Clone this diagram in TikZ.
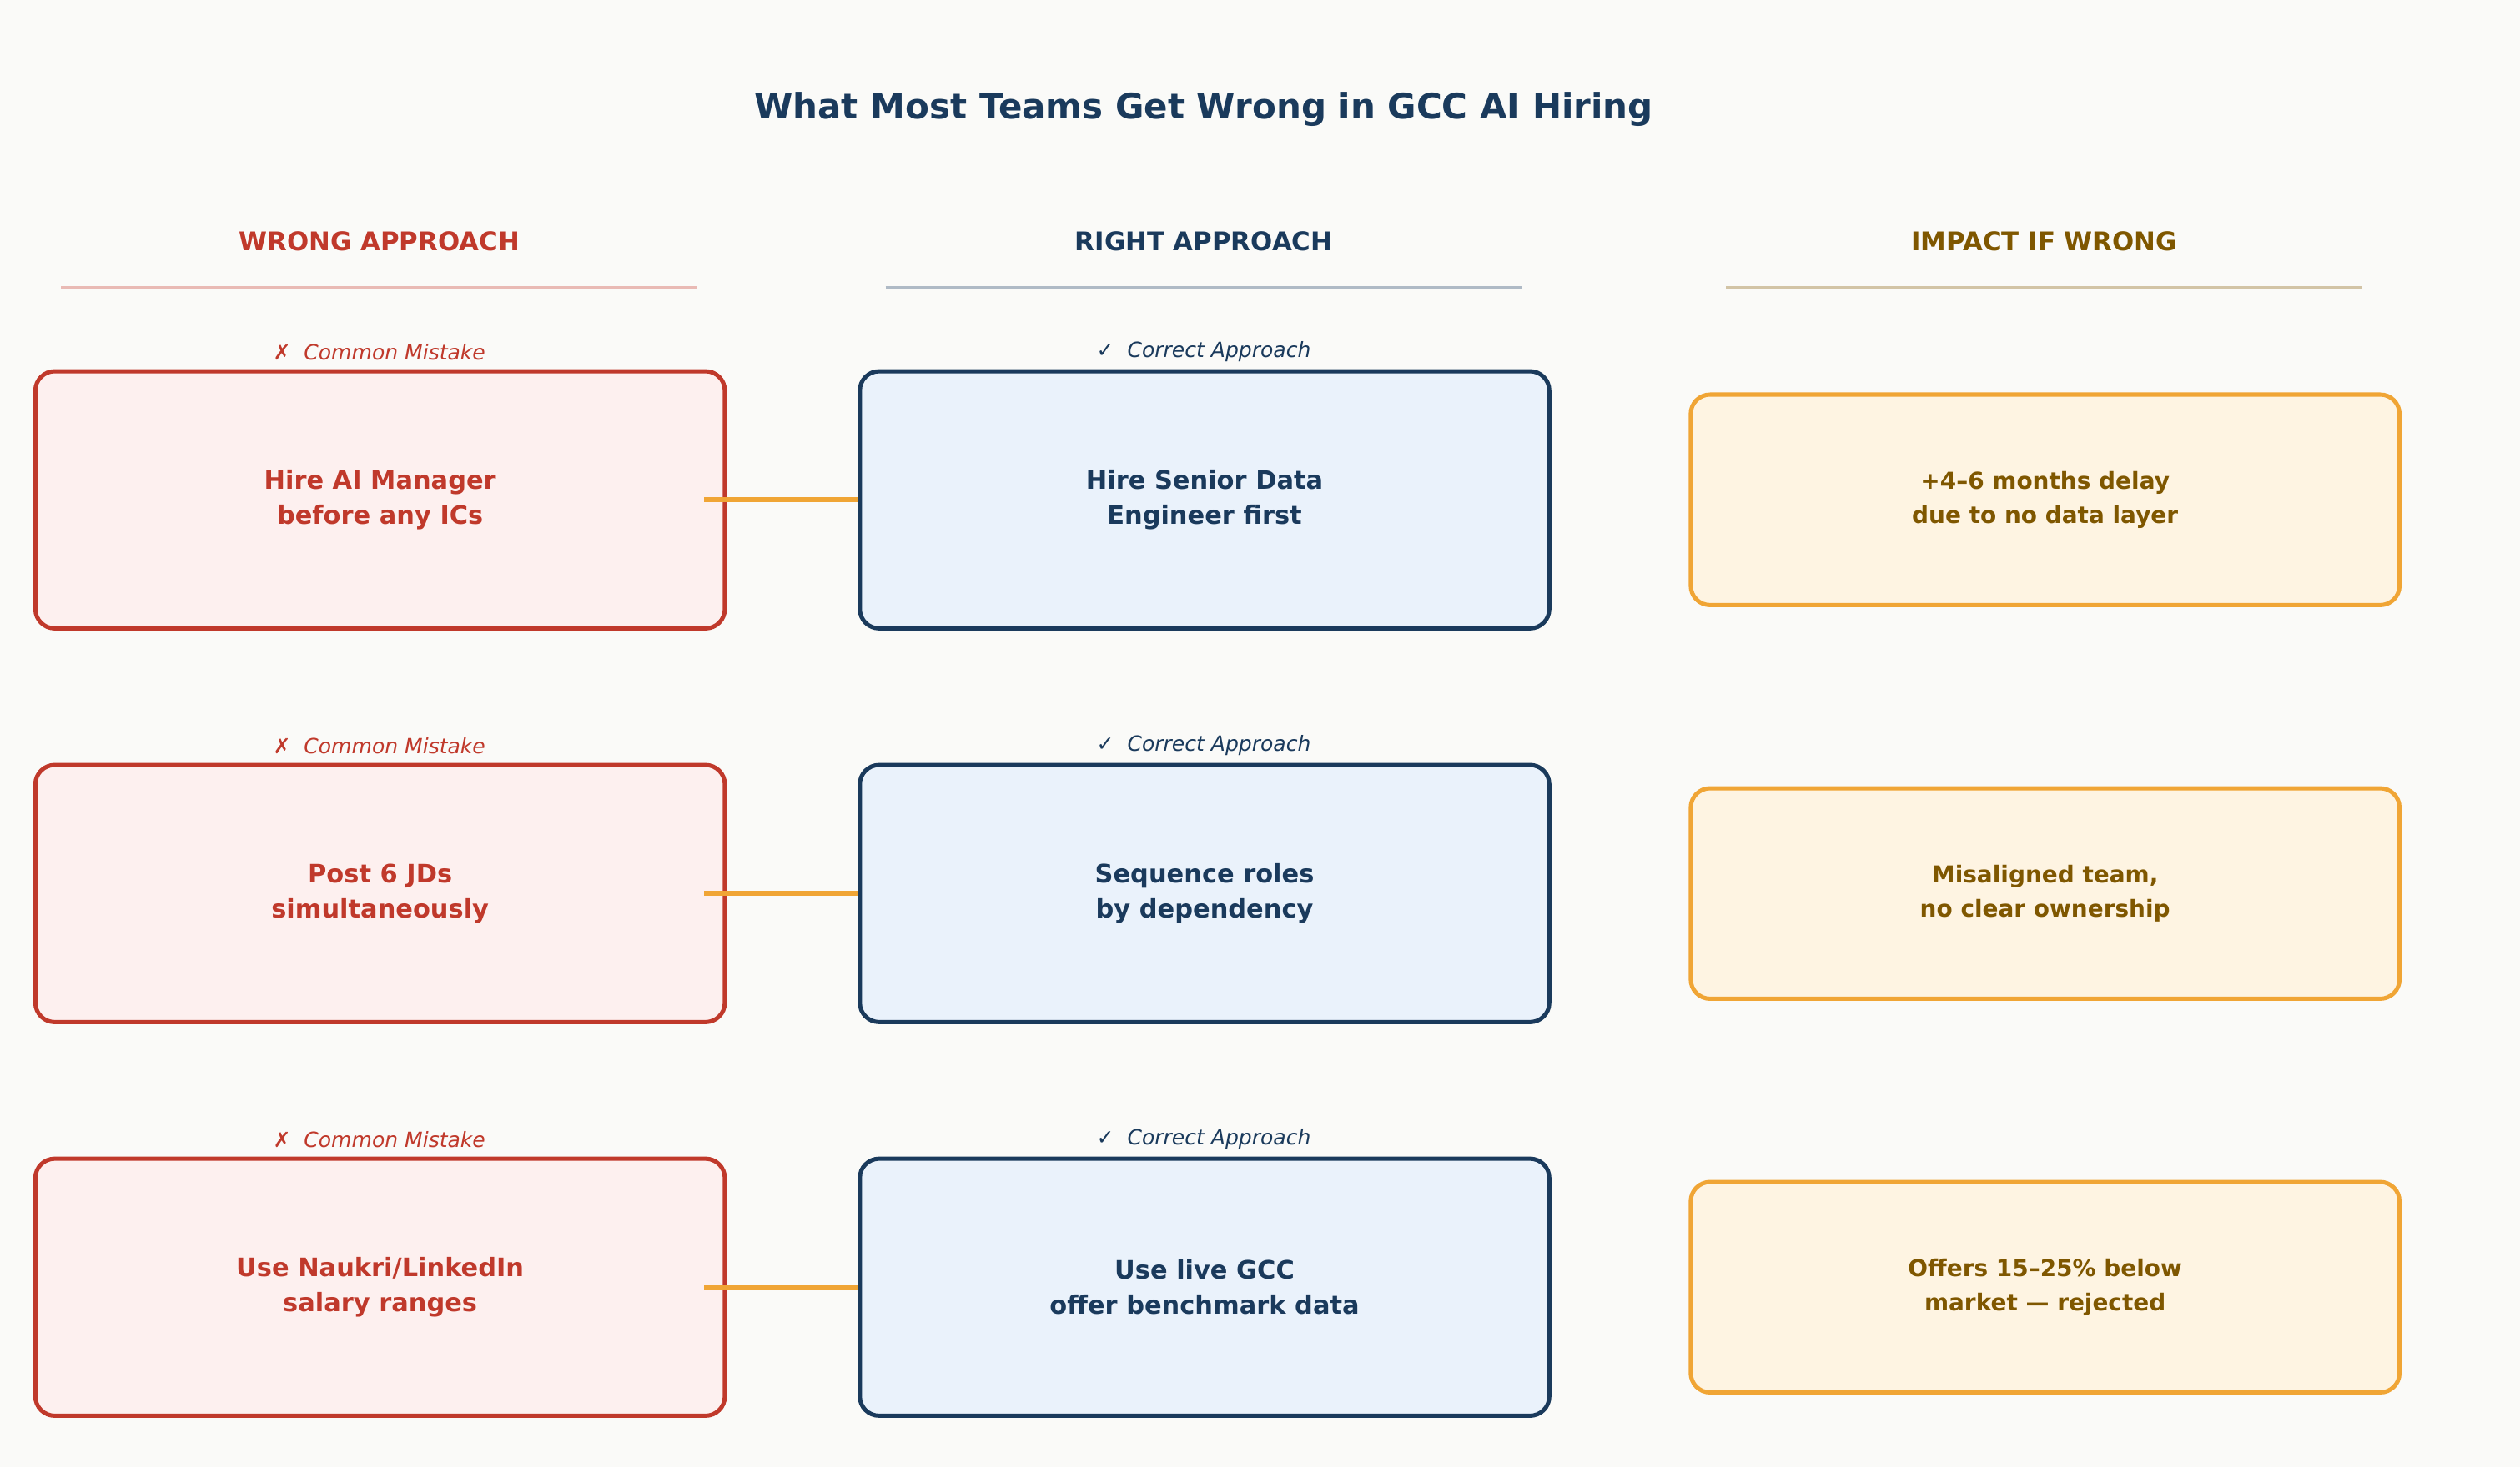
\documentclass[tikz,border=0pt]{standalone}
\usepackage{fontspec}
\setmainfont{DejaVu Sans}
\definecolor{bg}{HTML}{FAFAF8}
\definecolor{rd}{HTML}{C0392B}
\definecolor{rdf}{HTML}{FDF0EF}
\definecolor{nv}{HTML}{1A3A5C}
\definecolor{nvf}{HTML}{EAF2FB}
\definecolor{org}{HTML}{F0A535}
\definecolor{orf}{HTML}{FEF4E2}
\definecolor{brn}{HTML}{7F5700}
\begin{document}
\begin{tikzpicture}[x=1pt,y=-1pt,
  base/.style={rounded corners=12pt,line width=2.6pt,align=center,font=\bfseries\fontsize{15.8}{22}\selectfont,inner sep=0pt},
  wrong/.style={base,draw=rd,fill=rdf,text=rd,minimum width=429pt,minimum height=160pt},
  right/.style={base,draw=nv,fill=nvf,text=nv,minimum width=429pt,minimum height=160pt},
  impact/.style={base,draw=org,fill=orf,text=brn,minimum width=441pt,minimum height=131pt,font=\bfseries\fontsize{14.5}{21}\selectfont},
  hdr/.style={font=\bfseries\fontsize{16}{18}\selectfont},
  tag/.style={font=\itshape\fontsize{13}{15}\selectfont},
  conn/.style={draw=org,line width=3.2pt}]
\fill[bg] (0,0) rectangle (1568,913);
\node[font=\bfseries\fontsize{21.8}{25}\selectfont,text=nv] (title) at (749,68) {What Most Teams Get Wrong in GCC AI Hiring};
\node[hdr,text=rd] (h1) at (236,150) {WRONG APPROACH};
\node[hdr,text=nv] (h2) at (749,150) {RIGHT APPROACH};
\node[hdr,text=brn] (h3) at (1272,150) {IMPACT IF WRONG};
\draw[rd!35,line width=1.5pt] (38,179) -- (434,179);
\draw[nv!35,line width=1.5pt] (551,179) -- (947,179);
\draw[brn!35,line width=1.5pt] (1074,179) -- (1470,179);
\foreach \i/\y/\a/\b/\c in {1/311/{Hire AI Manager\\before any ICs}/{Hire Senior Data\\Engineer first}/{+4–6 months delay\\due to no data layer},
  2/556/{Post 6 JDs\\simultaneously}/{Sequence roles\\by dependency}/{Misaligned team,\\no clear ownership},
  3/801/{Use Naukri/LinkedIn\\salary ranges}/{Use live GCC\\offer benchmark data}/{Offers 15–25\% below\\market — rejected}}{
  \node[tag,text=rd] (tw\i) at (236,\y-92) {✗\ \ Common Mistake};
  \node[tag,text=nv] (tr\i) at (749,\y-92) {✓\ \ Correct Approach};
  \node[wrong] (l\i) at (236.5,\y) {\a};
  \node[right] (m\i) at (749.5,\y) {\b};
  \node[impact] (r\i) at (1272.5,\y) {\c};
  \draw[conn] ([xshift=-14pt]l\i.east) -- (m\i.west);
}
\end{tikzpicture}
\end{document}
